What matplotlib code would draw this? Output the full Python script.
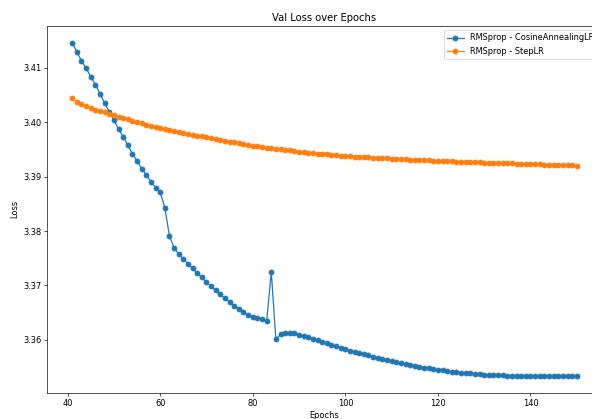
import matplotlib
matplotlib.use("Agg")
import matplotlib.pyplot as plt
import numpy as np

epochs = np.arange(41, 151)

cosine_loss = [
    3.41459, 3.41288, 3.41128, 3.40989, 3.40835, 3.40688, 3.40523, 3.40347, 3.40193, 3.40035,
    3.39870, 3.39734, 3.39576, 3.39422, 3.39288, 3.39147, 3.39031, 3.38908, 3.38798, 3.38719,
    3.38426, 3.37912, 3.37690, 3.37576, 3.37490, 3.37398, 3.37312, 3.37228, 3.37147, 3.37062,
    3.36982, 3.36908, 3.36835, 3.36761, 3.36695, 3.36628, 3.36572, 3.36517, 3.36462, 3.36426,
    3.36407, 3.36383, 3.36339, 3.37246, 3.36009, 3.36101, 3.36119, 3.36132, 3.36119, 3.36095,
    3.36070, 3.36045, 3.36018, 3.35992, 3.35965, 3.35935, 3.35905, 3.35880, 3.35855, 3.35830,
    3.35805, 3.35782, 3.35760, 3.35738, 3.35716, 3.35695, 3.35673, 3.35652, 3.35630, 3.35610,
    3.35590, 3.35570, 3.35552, 3.35535, 3.35518, 3.35503, 3.35490, 3.35477, 3.35465, 3.35452,
    3.35440, 3.35428, 3.35417, 3.35407, 3.35398, 3.35390, 3.35383, 3.35376, 3.35370, 3.35364,
    3.35359, 3.35355, 3.35351, 3.35348, 3.35345, 3.35343, 3.35341, 3.35340, 3.35339, 3.35338,
    3.35337, 3.35336, 3.35335, 3.35334, 3.35333, 3.35333, 3.35332, 3.35332, 3.35331, 3.35331,
]

step_loss = [
    3.40450, 3.40376, 3.40328, 3.40292, 3.40255, 3.40229, 3.40206, 3.40182, 3.40156, 3.40127,
    3.40102, 3.40077, 3.40050, 3.40024, 3.39998, 3.39975, 3.39952, 3.39930, 3.39909, 3.39888,
    3.39869, 3.39850, 3.39832, 3.39814, 3.39796, 3.39781, 3.39766, 3.39752, 3.39737, 3.39723,
    3.39707, 3.39691, 3.39674, 3.39658, 3.39642, 3.39627, 3.39612, 3.39598, 3.39583, 3.39569,
    3.39557, 3.39545, 3.39533, 3.39521, 3.39510, 3.39499, 3.39489, 3.39479, 3.39469, 3.39459,
    3.39449, 3.39440, 3.39431, 3.39422, 3.39414, 3.39406, 3.39399, 3.39392, 3.39386, 3.39380,
    3.39374, 3.39368, 3.39362, 3.39357, 3.39352, 3.39347, 3.39342, 3.39337, 3.39333, 3.39329,
    3.39325, 3.39321, 3.39317, 3.39313, 3.39309, 3.39305, 3.39301, 3.39297, 3.39293, 3.39289,
    3.39285, 3.39281, 3.39278, 3.39275, 3.39272, 3.39269, 3.39266, 3.39263, 3.39260, 3.39257,
    3.39254, 3.39251, 3.39249, 3.39246, 3.39244, 3.39241, 3.39239, 3.39236, 3.39233, 3.39230,
    3.39227, 3.39224, 3.39221, 3.39218, 3.39216, 3.39213, 3.39211, 3.39208, 3.39205, 3.39202,
]

# original looks like a 12x8 figure shrunk and cropped, ~60 px per inch
dpi = 59.7
fig = plt.figure(figsize=(592 / dpi, 419 / dpi), dpi=dpi)
# axes runs a bit past the right edge, like the cropped original
ax = fig.add_axes([47 / 592, 26 / 419, 555 / 592, 367 / 419])

ax.plot(epochs, cosine_loss, marker="o", label="RMSprop - CosineAnnealingLR")
ax.plot(epochs, step_loss, marker="o", label="RMSprop - StepLR")

ax.set_title("Val Loss over Epochs")
ax.set_xlabel("Epochs")
ax.set_ylabel("Loss")
ax.legend(loc="upper right")

fig.savefig("out.png", dpi=dpi)
